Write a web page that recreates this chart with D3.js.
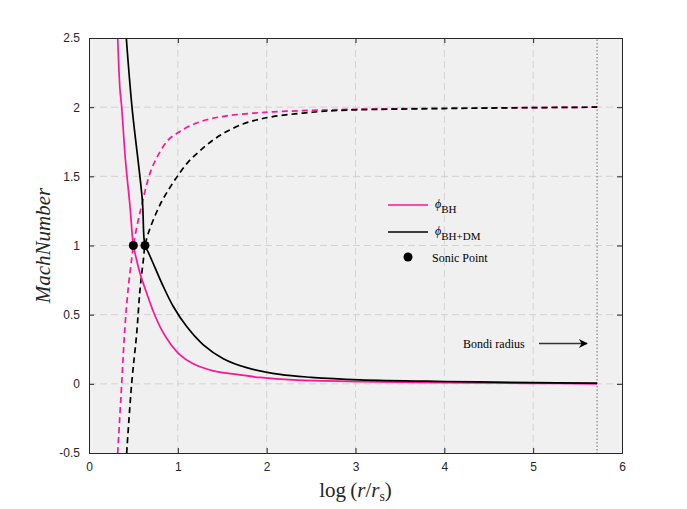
<!DOCTYPE html>
<html>
<head>
<meta charset="utf-8">
<script src="https://cdn.jsdelivr.net/npm/d3@7"></script>
<style>
  body { margin: 0; background: #fff; }
  svg { display: block; }
</style>
</head>
<body>
<div id="chart"></div>
<script>
// Chart size
const WIDTH = 687;
const HEIGHT = 509;
const MARGIN = { top: 38, right: 65, bottom: 56, left: 89 };

// Tick labels
const X_TICKS = [0, 1, 2, 3, 4, 5, 6];
const Y_TICKS = [-0.5, 0, 0.5, 1, 1.5, 2, 2.5];
const BONDI_X = 5.72;

// Curves: [log(r/rs), Mach number]
const bhSolid = [
  [0.323, 2.5], [0.349, 2.125], [0.368, 2.0], [0.41, 1.62], [0.462, 1.28], [0.499, 1.0],
  [0.518, 0.945], [0.574, 0.80], [0.649, 0.656], [0.724, 0.523], [0.818, 0.39],
  [0.912, 0.294], [1.024, 0.21], [1.174, 0.145], [1.4, 0.094], [1.7, 0.065],
  [1.925, 0.046], [2.3, 0.028], [3.05, 0.016], [4.0, 0.009], [5.0, 0.004], [5.72, 0.0]
];
const bhDashed = [
  [0.323, -0.5], [0.368, 0.0], [0.405, 0.414], [0.443, 0.70], [0.48, 0.9], [0.499, 1.0],
  [0.55, 1.17], [0.593, 1.29], [0.687, 1.523], [0.78, 1.655],
  [0.893, 1.764], [1.005, 1.817], [1.137, 1.865], [1.325, 1.909], [1.55, 1.937],
  [1.85, 1.957], [2.07, 1.966], [2.5, 1.977], [3.0, 1.985], [4.0, 1.992], [5.72, 2.0]
];
const dmSolid = [
  [0.42, 2.5], [0.484, 2.0], [0.6, 1.33], [0.63, 1.0],
  [0.668, 0.95], [0.743, 0.84], [0.837, 0.703], [0.949, 0.559], [1.1, 0.414],
  [1.287, 0.282], [1.512, 0.182], [1.775, 0.117], [2.15, 0.068], [2.5, 0.047],
  [3.05, 0.029], [4.0, 0.017], [5.0, 0.009], [5.72, 0.005]
];
const dmDashed = [
  [0.424, -0.5], [0.48, 0.0], [0.537, 0.366], [0.574, 0.68], [0.612, 0.896],
  [0.63, 1.0], [0.668, 1.09], [0.74, 1.21], [0.818, 1.318], [0.912, 1.42], [1.005, 1.51],
  [1.118, 1.605], [1.25, 1.685], [1.4, 1.764], [1.55, 1.824], [1.74, 1.88],
  [1.89, 1.908], [2.07, 1.932], [2.41, 1.957], [2.79, 1.976], [3.99, 1.99], [5.72, 2.0]
];
const sonicPoints = [[0.499, 1.0], [0.63, 1.0]];

const PINK = "#ff1493";
const BLACK = "#000";

function drawChart() {
  const svg = d3.select("#chart")
    .append("svg")
    .attr("width", WIDTH)
    .attr("height", HEIGHT);

  const innerW = WIDTH - MARGIN.left - MARGIN.right;
  const innerH = HEIGHT - MARGIN.top - MARGIN.bottom;

  const x = d3.scaleLinear().domain([0, 6]).range([MARGIN.left, MARGIN.left + innerW]);
  const y = d3.scaleLinear().domain([-0.5, 2.5]).range([MARGIN.top + innerH, MARGIN.top]);

  // Axes background
  svg.append("rect")
    .attr("x", x(0)).attr("y", y(2.5))
    .attr("width", innerW).attr("height", innerH)
    .attr("fill", "#f0f0f0");

  svg.append("clipPath").attr("id", "clip")
    .append("rect")
    .attr("x", x(0)).attr("y", y(2.5))
    .attr("width", innerW).attr("height", innerH);

  // Grid
  const grid = svg.append("g").attr("stroke", "#d2d2d2").attr("stroke-width", 1)
    .attr("stroke-dasharray", "7,4");
  grid.selectAll(".gx").data(X_TICKS.slice(1, -1)).enter().append("line")
    .attr("x1", d => x(d)).attr("x2", d => x(d))
    .attr("y1", y(-0.5)).attr("y2", y(2.5));
  grid.selectAll(".gy").data(Y_TICKS.slice(1, -1)).enter().append("line")
    .attr("y1", d => y(d)).attr("y2", d => y(d))
    .attr("x1", x(0)).attr("x2", x(6));

  // Bondi radius marker
  svg.append("line")
    .attr("x1", x(BONDI_X)).attr("x2", x(BONDI_X))
    .attr("y1", y(-0.5) + 1).attr("y2", y(2.5))
    .attr("stroke", "#999").attr("stroke-width", 1.5)
    .attr("stroke-dasharray", "1.5,2");

  // Curves
  const line = d3.line().x(d => x(d[0])).y(d => y(d[1])).curve(d3.curveCatmullRom.alpha(0.5));
  const curves = svg.append("g").attr("clip-path", "url(#clip)").attr("fill", "none")
    .attr("stroke-width", 1.7);

  curves.append("path").datum(bhDashed).attr("d", line)
    .attr("stroke", PINK).attr("stroke-dasharray", "6,4");
  curves.append("path").datum(dmDashed).attr("d", line)
    .attr("stroke", BLACK).attr("stroke-dasharray", "6,4");
  curves.append("path").datum(bhSolid).attr("d", line)
    .attr("stroke", PINK);
  curves.append("path").datum(dmSolid).attr("d", line)
    .attr("stroke", BLACK);

  svg.selectAll(".sonic").data(sonicPoints).enter().append("circle")
    .attr("cx", d => x(d[0])).attr("cy", d => y(d[1])).attr("r", 4.5)
    .attr("fill", BLACK);

  // Axes box and ticks
  const xAxis = d3.axisBottom(x).tickValues(X_TICKS).tickSize(-5).tickPadding(9).tickFormat(d3.format("d"));
  const xAxisTop = d3.axisTop(x).tickValues(X_TICKS).tickSize(-5).tickFormat("");
  const yAxis = d3.axisLeft(y).tickValues(Y_TICKS).tickSize(-5).tickPadding(9).tickFormat(d => String(d));
  const yAxisRight = d3.axisRight(y).tickValues(Y_TICKS).tickSize(-5).tickFormat("");

  const styleAxis = g => {
    g.selectAll("path").attr("stroke", "#262626").attr("stroke-width", 1);
    g.selectAll("line").attr("stroke", "#262626");
    g.selectAll("text").attr("fill", "#262626")
      .style("font-family", "'Liberation Sans', Arial, sans-serif").style("font-size", "12px");
  };
  svg.append("g").attr("transform", `translate(0,${y(-0.5)})`).call(xAxis).call(styleAxis);
  svg.append("g").attr("transform", `translate(0,${y(2.5)})`).call(xAxisTop).call(styleAxis);
  svg.append("g").attr("transform", `translate(${x(0)},0)`).call(yAxis).call(styleAxis);
  svg.append("g").attr("transform", `translate(${x(6)},0)`).call(yAxisRight).call(styleAxis);

  // Axis labels
  const serif = "'Liberation Serif', 'Times New Roman', serif";
  const xl = svg.append("text")
    .attr("x", x(3)).attr("y", 497)
    .attr("text-anchor", "middle")
    .style("font-family", serif).style("font-size", "21px").attr("fill", "#262626");
  xl.append("tspan").text("log\u2009(");
  xl.append("tspan").attr("font-style", "italic").text("r");
  xl.append("tspan").text("/");
  xl.append("tspan").attr("font-style", "italic").text("r");
  xl.append("tspan").attr("font-size", "14px").attr("dy", 4).text("s");
  xl.append("tspan").attr("dy", -4).text(")");

  svg.append("text")
    .attr("transform", `translate(50,${y(1)}) rotate(-90)`)
    .attr("text-anchor", "middle")
    .style("font-family", serif).style("font-size", "21px").style("font-style", "italic")
    .attr("fill", "#262626")
    .text("MachNumber");

  // Legend
  const legend = svg.append("g").style("font-family", serif).attr("fill", "#000");
  const items = [
    { color: PINK, sub: "BH", y: 205 },
    { color: BLACK, sub: "BH+DM", y: 232 }
  ];
  items.forEach(it => {
    legend.append("line")
      .attr("x1", 388).attr("x2", 428).attr("y1", it.y).attr("y2", it.y)
      .attr("stroke", it.color).attr("stroke-width", 1.7);
    const t = legend.append("text").attr("x", 435).attr("y", it.y + 3).style("font-size", "12px");
    t.append("tspan").attr("font-style", "italic").text("\u03d5");
    t.append("tspan").attr("dy", 5).style("font-size", "11px").text(it.sub);
  });
  legend.append("circle").attr("cx", 408).attr("cy", 257).attr("r", 4.5).attr("fill", BLACK);
  legend.append("text").attr("x", 432).attr("y", 262).style("font-size", "12px").text("Sonic Point");

  // Bondi radius annotation
  svg.append("defs").append("marker")
    .attr("id", "arrow").attr("viewBox", "0 0 10 10")
    .attr("refX", 9).attr("refY", 5)
    .attr("markerWidth", 11).attr("markerHeight", 9).attr("markerUnits", "userSpaceOnUse")
    .attr("orient", "auto")
    .append("path").attr("d", "M0,0 L10,5 L0,10 L3,5 Z").attr("fill", "#000");
  svg.append("text").attr("x", 463).attr("y", 348)
    .style("font-family", serif).style("font-size", "12px").text("Bondi radius");
  svg.append("line")
    .attr("x1", 539).attr("x2", 587).attr("y1", 343.5).attr("y2", 343.5)
    .attr("stroke", "#333").attr("stroke-width", 1.6)
    .attr("marker-end", "url(#arrow)");
}

drawChart();
</script>
</body>
</html>
